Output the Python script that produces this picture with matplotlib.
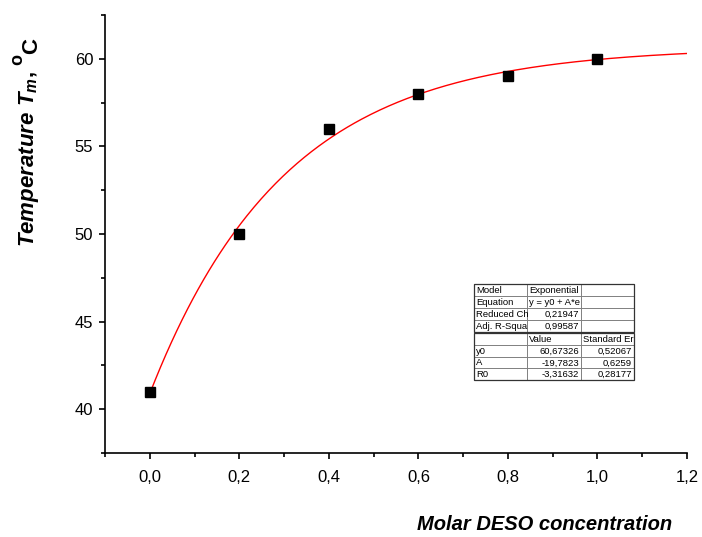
import numpy as np
import matplotlib
matplotlib.use("Agg")
import matplotlib.pyplot as plt
from matplotlib.ticker import MultipleLocator, FormatStrFormatter

plt.rcParams["font.family"] = "Liberation Sans"
plt.rcParams["mathtext.fontset"] = "custom"
plt.rcParams["mathtext.rm"] = "Liberation Sans:bold"
plt.rcParams["mathtext.it"] = "Liberation Sans:bold:italic"
plt.rcParams["mathtext.bf"] = "Liberation Sans:bold"

# measured points
deso = [0.0, 0.2, 0.4, 0.6, 0.8, 1.0]
temp = [41, 50, 56, 58, 59, 60]

# exponential fit parameters (from the fit table)
y0 = 60.67326
A = -19.7823
R0 = -3.31632

fit_top = [["Model", "Exponential", ""],
           ["Equation", "y = y0 + A*e", ""],
           ["Reduced Ch", "0,21947", ""],
           ["Adj. R-Squa", "0,99587", ""]]
fit_bottom = [["", "Value", "Standard Er"],
              ["y0", "60,67326", "0,52067"],
              ["A", "-19,7823", "0,6259"],
              ["R0", "-3,31632", "0,28177"]]


def comma(v, pos=None):
    return ("%.1f" % v).replace(".", ",")


fig = plt.figure(figsize=(7.02, 5.37), dpi=100, facecolor="white")
ax = fig.add_axes([0.1496, 0.1564, 0.8290, 0.8157])

xs = np.linspace(0.0, 1.2, 300)
ax.plot(xs, y0 + A * np.exp(R0 * xs), color="red", lw=1.0, zorder=2)
ax.plot(deso, temp, "s", color="black", ms=7.5, zorder=3)

ax.set_xlim(-0.1, 1.2)
ax.set_ylim(37.5, 62.5)
ax.xaxis.set_major_locator(MultipleLocator(0.2))
ax.xaxis.set_minor_locator(MultipleLocator(0.1))
ax.yaxis.set_major_locator(MultipleLocator(5))
ax.yaxis.set_minor_locator(MultipleLocator(2.5))
ax.xaxis.set_major_formatter(plt.FuncFormatter(comma))
ax.yaxis.set_major_formatter(FormatStrFormatter("%d"))
ax.tick_params(which="both", direction="out", width=1.2, labelsize=12)
ax.tick_params(which="major", length=4.5)
ax.tick_params(which="minor", length=3)
ax.tick_params(axis="x", which="major", pad=8)
ax.tick_params(axis="y", which="major", pad=4)
ax.spines["top"].set_visible(False)
ax.spines["right"].set_visible(False)
ax.spines["left"].set_linewidth(1.2)
ax.spines["bottom"].set_linewidth(1.2)

# y label: main part plus a separate, larger "oC"
fig.text(0.042, 0.54, r"$Temperature\ T_m,$",
         rotation=90, ha="center", va="bottom", fontsize=16)
fig.text(0.045, 0.929, "C", rotation=90, ha="center", va="top",
         fontsize=16, fontweight="bold")
fig.text(0.025, 0.889, "o", rotation=90, ha="center", va="center",
         fontsize=13, fontweight="bold")
fig.text(0.776, 0.005, "Molar DESO concentration", ha="center", va="bottom",
         fontsize=14.5, fontweight="bold", fontstyle="italic")

# fit results table
left_px, right_px = 474, 634
cols_px = [474, 527, 581, 634]
for rows, top_px, bot_px in [(fit_top, 284, 332), (fit_bottom, 333, 380)]:
    tb = fig.add_axes([left_px / 702, 1 - bot_px / 537,
                       (right_px - left_px) / 702, (bot_px - top_px) / 537])
    tb.set_xlim(left_px, right_px)
    tb.set_ylim(bot_px, top_px)
    tb.axis("off")
    n = len(rows)
    h = (bot_px - top_px) / n
    for i, row in enumerate(rows):
        for j, txt in enumerate(row):
            x0, x1 = cols_px[j], cols_px[j + 1]
            tb.add_patch(plt.Rectangle((x0, top_px + i * h), x1 - x0, h,
                                       fill=False, ec="#808080", lw=0.6,
                                       clip_on=False))
            if not txt:
                continue
            numeric = txt[0].isdigit() or txt[0] == "-"
            if numeric and j > 0:
                tb.text(x1 - 2, top_px + (i + 0.55) * h, txt, ha="right",
                        va="center", fontsize=6.8)
            else:
                tb.text(x0 + 2, top_px + (i + 0.55) * h, txt, ha="left",
                        va="center", fontsize=6.8)
    tb.add_patch(plt.Rectangle((left_px, top_px), right_px - left_px,
                               bot_px - top_px, fill=False, ec="#333333",
                               lw=0.9, clip_on=False))

fig.savefig("out.png", dpi=100, facecolor="white")
